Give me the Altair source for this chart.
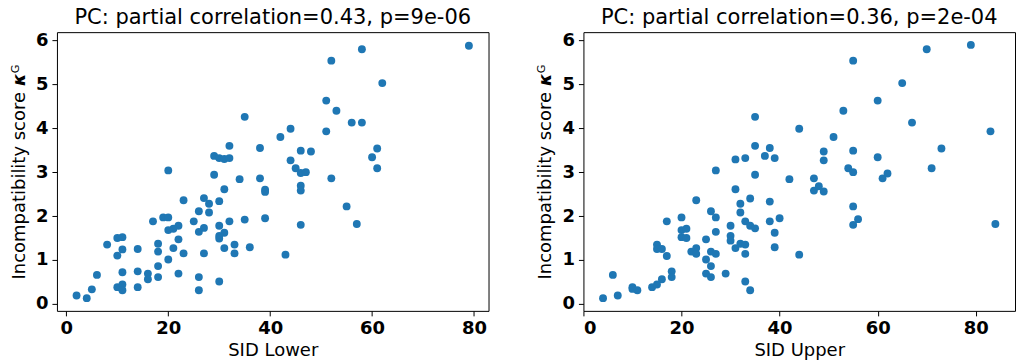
import altair as alt
import pandas as pd

# SID lower bound vs. incompatibility score
sid_lower = [35, 32, 38, 29, 30, 31, 32, 20, 29, 34,
             38, 31, 39, 39, 23, 27, 28, 30, 26, 28,
             19, 20, 17, 25, 35, 39, 32, 22, 21, 20,
             27, 26, 30, 31, 30, 30, 22, 10, 11, 8,
             18, 11, 14, 21, 18, 31, 33, 36, 23, 27,
             33, 10, 20, 18, 6, 11, 14, 16, 22, 18,
             16, 26, 30, 10, 11, 11, 14, 5, 2, 4,
             26, 79, 58, 52, 62, 51, 53, 56, 58, 44,
             42, 51, 46, 48, 61, 60, 44, 45, 46, 47,
             61, 52, 46, 46, 55, 46, 57, 43]
score_lower = [4.26, 3.60, 3.55, 3.37, 3.32, 3.30, 3.32, 3.04, 2.94, 2.84,
               2.86, 2.61, 2.60, 2.55, 2.36, 2.41, 2.28, 2.34, 2.11, 2.08,
               1.97, 1.97, 1.88, 1.88, 1.92, 1.95, 1.88, 1.78, 1.71, 1.68,
               1.73, 1.64, 1.78, 1.62, 1.55, 1.49, 1.47, 1.50, 1.52, 1.35,
               1.37, 1.24, 1.25, 1.27, 1.19, 1.27, 1.35, 1.29, 1.15, 1.15,
               1.15, 1.10, 1.01, 0.86, 0.66, 0.72, 0.74, 0.69, 0.69, 0.61,
               0.56, 0.61, 0.51, 0.38, 0.44, 0.31, 0.38, 0.33, 0.19, 0.13,
               0.31, 5.88, 5.80, 5.54, 5.03, 4.63, 4.40, 4.13, 4.13, 3.99,
               3.80, 3.93, 3.49, 3.47, 3.54, 3.34, 3.27, 3.09, 2.98, 3.00,
               3.09, 2.86, 2.69, 2.58, 2.22, 1.80, 1.82, 1.12]

# SID upper bound vs. incompatibility score
sid_upper = [35, 35, 38, 37, 31, 33, 39, 27, 35, 42,
             31, 34, 23, 32, 38, 26, 32, 20, 27, 40,
             17, 33, 38, 34, 35, 30, 20, 21, 27, 39,
             20, 21, 30, 30, 25, 15, 15, 16, 17, 23,
             22, 23, 26, 27, 31, 32, 33, 33, 39, 25,
             26, 6, 18, 18, 16, 25, 26, 29, 33, 34,
             10, 10, 11, 14, 15, 7, 4,
             79, 70, 55, 65, 60, 53, 67, 44, 83, 51,
             49, 49, 55, 73, 60, 54, 55, 71, 47, 61,
             62, 47, 48, 49, 55, 56, 55, 84, 44]
score_upper = [4.26, 3.60, 3.55, 3.37, 3.29, 3.32, 3.32, 3.04, 2.94, 2.84,
               2.61, 2.40, 2.36, 2.28, 2.33, 2.11, 2.08, 1.97, 1.97, 1.95,
               1.88, 1.88, 1.88, 1.78, 1.72, 1.78, 1.68, 1.71, 1.64, 1.62,
               1.52, 1.50, 1.55, 1.44, 1.47, 1.35, 1.25, 1.25, 1.09, 1.27,
               1.19, 1.14, 1.19, 1.14, 1.27, 1.37, 1.35, 1.14, 1.29, 1.01,
               0.86, 0.66, 0.74, 0.61, 0.56, 0.69, 0.61, 0.69, 0.51, 0.31,
               0.38, 0.34, 0.31, 0.38, 0.44, 0.19, 0.13,
               5.90, 5.80, 5.54, 5.03, 4.63, 4.40, 4.13, 3.99, 3.93, 3.80,
               3.47, 3.27, 3.49, 3.54, 3.34, 3.09, 3.00, 3.09, 2.86, 2.86,
               2.97, 2.58, 2.68, 2.56, 2.22, 1.93, 1.80, 1.82, 1.12]

x_ticks = [0, 20, 40, 60, 80]
y_ticks = [0, 1, 2, 3, 4, 5, 6]
# sans-serif bold italic kappa with a superscript G
y_title = "Incompatibility score \U0001D7B3ᴳ"

FONT = "DejaVu Sans"
BLUE = "#1f77b4"


def panel(xs, ys, x_title, x_domain, title):
    df = pd.DataFrame({"sid": xs, "score": ys})
    return (
        alt.Chart(df, title=alt.Title(title, fontSize=21, font=FONT,
                                      fontWeight="normal", color="#000",
                                      offset=4))
        .mark_circle(size=62, color=BLUE, opacity=1)
        .encode(
            x=alt.X("sid:Q", title=x_title,
                    scale=alt.Scale(domain=x_domain, nice=False, zero=False),
                    axis=alt.Axis(values=x_ticks)),
            y=alt.Y("score:Q", title=y_title,
                    scale=alt.Scale(domain=[-0.16, 6.19], nice=False, zero=False),
                    axis=alt.Axis(values=y_ticks)),
        )
        .properties(width=432, height=279)
    )


left = panel(sid_lower, score_lower, "SID Lower", [-1.85, 82.85],
             "PC: partial correlation=0.43, p=9e-06")
right = panel(sid_upper, score_upper, "SID Upper", [0, 88],
              "PC: partial correlation=0.36, p=2e-04")

chart = (
    alt.hconcat(left, right, spacing=46)
    .properties(padding={"left": 9, "top": 5, "right": 0, "bottom": 0},
                background="white")
    .configure_view(stroke="#000", strokeWidth=1)
    .configure_axis(
        grid=False, domain=False,
        tickColor="#000", tickSize=5, tickWidth=1,
        labelFont=FONT, labelFontSize=18, labelFontWeight="bold",
        labelColor="#000", labelPadding=4,
        titleFont=FONT, titleFontSize=18, titleFontWeight="normal",
        titleColor="#000",
    )
    .configure_axisY(titlePadding=7)
    .configure_axisX(titlePadding=4)
)

chart.save("out.html", embed_options={"renderer": "svg", "actions": False})
